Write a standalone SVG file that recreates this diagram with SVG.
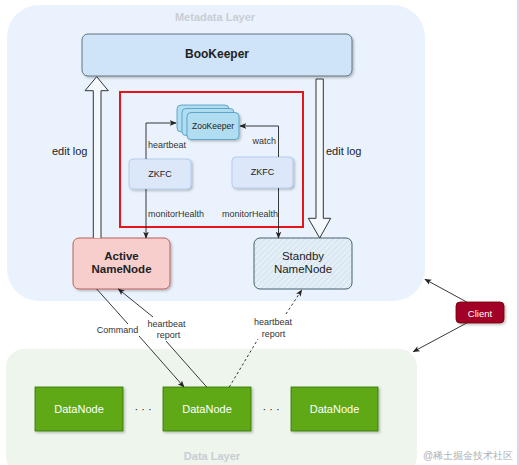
<svg xmlns="http://www.w3.org/2000/svg" width="519" height="465" viewBox="0 0 519 465">
<defs>
<style>
text{font-family:"Liberation Sans",Arial,Helvetica,sans-serif;fill:#222;}
.layer{font-size:11px;font-weight:bold;fill:#c8cdd3;text-anchor:middle;}
.lbl{font-size:9px;fill:#333;}
.mid{text-anchor:middle;}
.conn{fill:none;stroke:#222;stroke-width:0.9;}
.dash{stroke-dasharray:2.5,2.5;}
.dn{fill:#60a917;stroke:#2d7600;stroke-width:0.8;}
.dnt{font-size:11px;fill:#fff;text-anchor:middle;}
.zk{fill:#b1ddf0;stroke:#4a98c0;stroke-width:0.8;}
.zkfc{fill:#dce8fa;stroke:#a9c4eb;stroke-width:0.8;}
.block{fill:#f3f8fd;stroke:#333;stroke-width:1;}
</style>
<marker id="ah" viewBox="0 0 10 10" refX="9" refY="5" markerWidth="7" markerHeight="7" orient="auto-start-reverse" markerUnits="userSpaceOnUse">
<path d="M0,1 L10,5 L0,9 L2.5,5 Z" fill="#222"/>
</marker>
<pattern id="hatch" width="4" height="4" patternUnits="userSpaceOnUse" patternTransform="rotate(45)">
<rect width="4" height="4" fill="#e3eef7"/>
<line x1="0" y1="0" x2="0" y2="4" stroke="#bcd0e0" stroke-width="0.8"/>
</pattern>
<filter id="sh" x="-10%" y="-10%" width="130%" height="140%">
<feDropShadow dx="1.5" dy="1.5" stdDeviation="1" flood-color="#000" flood-opacity="0.25"/>
</filter>
</defs>

<rect x="0" y="0" width="519" height="465" fill="#ffffff"/>
<line x1="518" y1="0" x2="518" y2="465" stroke="#b4c4ee" stroke-width="1.2"/>

<g id="metadata-layer">
<rect x="7" y="5" width="418" height="296" rx="32" fill="#eaf3fd"/>
<text class="layer" x="215" y="21">Metadata Layer</text>
</g>

<g id="data-layer">
<rect x="6" y="349" width="411" height="125" rx="18" fill="#eef5ec"/>
<text class="layer" x="212" y="460">Data Layer</text>
</g>

<g id="bookkeeper">
<rect x="82" y="34" width="270" height="42" rx="6" fill="#cfe4f9" stroke="#5a6572" stroke-width="0.9" filter="url(#sh)"/>
<text x="217" y="58" font-size="12" font-weight="bold" text-anchor="middle">BooKeeper</text>
</g>

<g id="ha-box">
<rect x="120" y="92" width="183" height="135" fill="none" stroke="#e8141c" stroke-width="2"/>
</g>

<g id="zookeeper">
<rect class="zk" x="177" y="105" width="52" height="27" rx="4"/>
<rect class="zk" x="182" y="108.5" width="52" height="27" rx="4"/>
<rect class="zk" x="187" y="112.5" width="52" height="27" rx="4" filter="url(#sh)"/>
<text x="213" y="129" font-size="8.5" text-anchor="middle">ZooKeeper</text>
</g>

<g id="zkfc-left">
<rect class="zkfc" x="129" y="159" width="62" height="30" rx="4" filter="url(#sh)"/>
<text x="160" y="177" font-size="9" text-anchor="middle">ZKFC</text>
</g>

<g id="zkfc-right">
<rect class="zkfc" x="232" y="157" width="61" height="31" rx="4" filter="url(#sh)"/>
<text x="262.5" y="175" font-size="9" text-anchor="middle">ZKFC</text>
</g>

<g id="active-namenode">
<rect x="73" y="238" width="97" height="51" rx="6" fill="#f8cecc" stroke="#b85450" stroke-width="0.9" filter="url(#sh)"/>
<text x="121.5" y="260" font-size="11.5" font-weight="bold" text-anchor="middle">Active</text>
<text x="121.5" y="273" font-size="11.5" font-weight="bold" text-anchor="middle">NameNode</text>
</g>

<g id="standby-namenode">
<rect x="254" y="238" width="98" height="51" rx="6" fill="url(#hatch)" stroke="#34505e" stroke-width="0.9"/>
<text x="303" y="260" font-size="11.5" text-anchor="middle">Standby</text>
<text x="303" y="273" font-size="11.5" text-anchor="middle">NameNode</text>
</g>

<g id="client">
<rect x="456" y="302" width="48" height="21" rx="4" fill="#a20025" stroke="#6f0000" stroke-width="0.8" filter="url(#sh)"/>
<text x="480" y="316.5" font-size="9.5" fill="#fff" text-anchor="middle" style="fill:#fff">Client</text>
</g>

<g id="datanode-1">
<rect class="dn" x="35" y="387" width="88" height="44" filter="url(#sh)"/>
<text class="dnt" x="79" y="413" style="fill:#fff">DataNode</text>
</g>
<g id="datanode-2">
<rect class="dn" x="163" y="387" width="88" height="44" filter="url(#sh)"/>
<text class="dnt" x="207" y="413" style="fill:#fff">DataNode</text>
</g>
<g id="datanode-3">
<rect class="dn" x="291" y="387" width="87" height="44" filter="url(#sh)"/>
<text class="dnt" x="334.5" y="413" style="fill:#fff">DataNode</text>
</g>
<g id="dots">
<text x="143" y="413" font-size="11" text-anchor="middle">· · ·</text>
<text x="271" y="413" font-size="11" text-anchor="middle">· · ·</text>
</g>

<g id="connectors">
<!-- edit log left: Active -> BookKeeper (hollow block arrow) -->
<path class="block" d="M93.3,238 L93.3,90.7 L85,90.7 L96.7,76.7 L108.3,90.7 L101,90.7 L101,238"/>
<text x="52" y="155" font-size="11">edit log</text>
<!-- edit log right: BookKeeper -> Standby -->
<path class="block" d="M316,79 L316,218.3 L308.3,218.3 L319.7,238 L330.7,218.3 L323.3,218.3 L323.3,79 Z"/>
<text x="326" y="155" font-size="11">edit log</text>

<!-- ZKFC left heartbeat to ZooKeeper -->
<path class="conn" d="M146,159 L146,123 L176,123" marker-end="url(#ah)"/>
<text class="lbl" x="148" y="148">heartbeat</text>
<!-- ZKFC right watch -->
<path class="conn" d="M278.5,157 L278.5,126 L240,126" marker-end="url(#ah)"/>
<text class="lbl" x="276" y="144" text-anchor="end">watch</text>
<!-- monitorHealth left -->
<path class="conn" d="M146,189 L146,238" marker-end="url(#ah)"/>
<text class="lbl" x="148" y="217">monitorHealth</text>
<!-- monitorHealth right -->
<path class="conn" d="M278.5,188 L278.5,238" marker-end="url(#ah)"/>
<text class="lbl" x="278" y="217" text-anchor="end">monitorHealth</text>

<!-- Command: Active -> DataNode2 -->
<path class="conn" d="M96.7,289 L128,324"/>
<path class="conn" d="M139,336 L184,387" marker-end="url(#ah)"/>
<text class="lbl mid" x="117.5" y="333">Command</text>
<!-- heartbeat report: DataNode2 -> Active -->
<path class="conn" d="M206.7,387 L166,341"/>
<path class="conn" d="M153,317 L118.3,289" marker-end="url(#ah)"/>
<text class="lbl mid" x="166.5" y="327">heartbeat</text>
<text class="lbl mid" x="168.5" y="338">report</text>
<!-- dashed heartbeat report: DataNode2 -> Standby -->
<path class="conn dash" d="M229.3,387 L258,339"/>
<path class="conn dash" d="M286,314 L301.7,290" marker-end="url(#ah)"/>
<text class="lbl mid" x="273" y="325">heartbeat</text>
<text class="lbl mid" x="273.5" y="337">report</text>

<!-- Client arrows -->
<path class="conn" d="M466.7,302 L425,279.3" marker-end="url(#ah)"/>
<path class="conn" d="M466.7,323 L413.3,351.7" marker-end="url(#ah)"/>
</g>

<text x="468" y="459" font-size="10" text-anchor="middle" style="fill:#b0b0b0" font-family="'Noto Sans CJK SC',sans-serif">@稀土掘金技术社区</text>
</svg>
